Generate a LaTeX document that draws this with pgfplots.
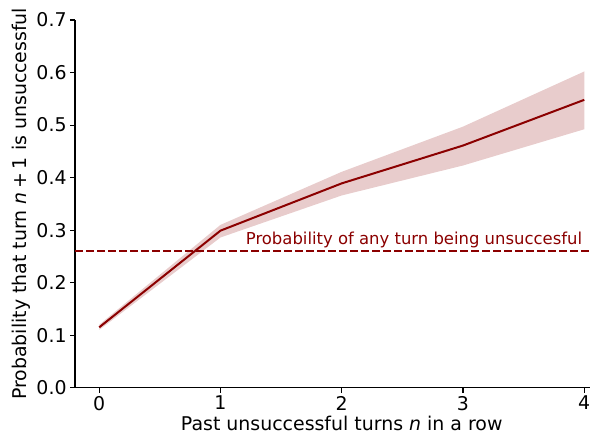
\documentclass[border=0pt]{standalone}
\usepackage{fontspec}
\setmainfont{DejaVu Sans}
\usepackage{pgfplots}
\pgfplotsset{compat=1.18}
\usepgfplotslibrary{fillbetween}
\definecolor{darkred}{RGB}{139,0,0}

\begin{document}
\begin{tikzpicture}
\begin{axis}[
    anchor=south west, at={(0,0)},
    scale only axis,
    width=533.5bp, height=367.7bp,
    xmin=-0.2, xmax=4.2,
    ymin=0, ymax=0.7,
    xtick={0,1,2,3,4},
    ytick={0,0.1,0.2,0.3,0.4,0.5,0.6,0.7},
    yticklabel style={/pgf/number format/.cd, fixed, fixed zerofill, precision=1},
    /pgf/number format/assume math mode=true,
    tick label style={font=\fontsize{19}{23}\selectfont},
    label style={font=\fontsize{19}{23}\selectfont},
    axis lines*=left,
    axis line style={line width=1.1bp, -},
    tick style={line width=1.1bp, black},
    major tick length=4.9bp,
    tick align=outside,
    xtick pos=bottom, ytick pos=left,
    xlabel={Past unsuccessful turns \textit{n} in a row},
    ylabel={Probability that turn \textit{n}\hspace{0.2em}+\hspace{0.2em}1 is unsuccessful},
    xlabel style={yshift=1bp},
    ylabel style={yshift=-1bp},
    ]
    \addplot[name path=upper, draw=none] coordinates {
        (0,0.120)(1,0.310)(2,0.411)(3,0.497)(4,0.602)
    };
    \addplot[name path=lower, draw=none] coordinates {
        (0,0.110)(1,0.286)(2,0.366)(3,0.423)(4,0.492)
    };
    \addplot[darkred, fill opacity=0.2, draw=none] fill between[of=upper and lower];
    \addplot[darkred, line width=2bp] coordinates {
        (0,0.115)(1,0.299)(2,0.389)(3,0.461)(4,0.548)
    };
    \addplot[darkred, line width=2bp, dash pattern=on 7.7bp off 3.3bp] coordinates {
        (-0.2,0.261)(4.2,0.261)
    };
    \node[anchor=south east, text=darkred, font=\fontsize{16.5}{19}\selectfont, inner sep=2bp]
        at (axis cs:4,0.261) {Probability of any turn being unsuccesful};
\end{axis}
\pgfresetboundingbox
\path[use as bounding box] (-75bp,-49.3bp) rectangle (515bp,387.7bp);
\end{tikzpicture}
\end{document}
